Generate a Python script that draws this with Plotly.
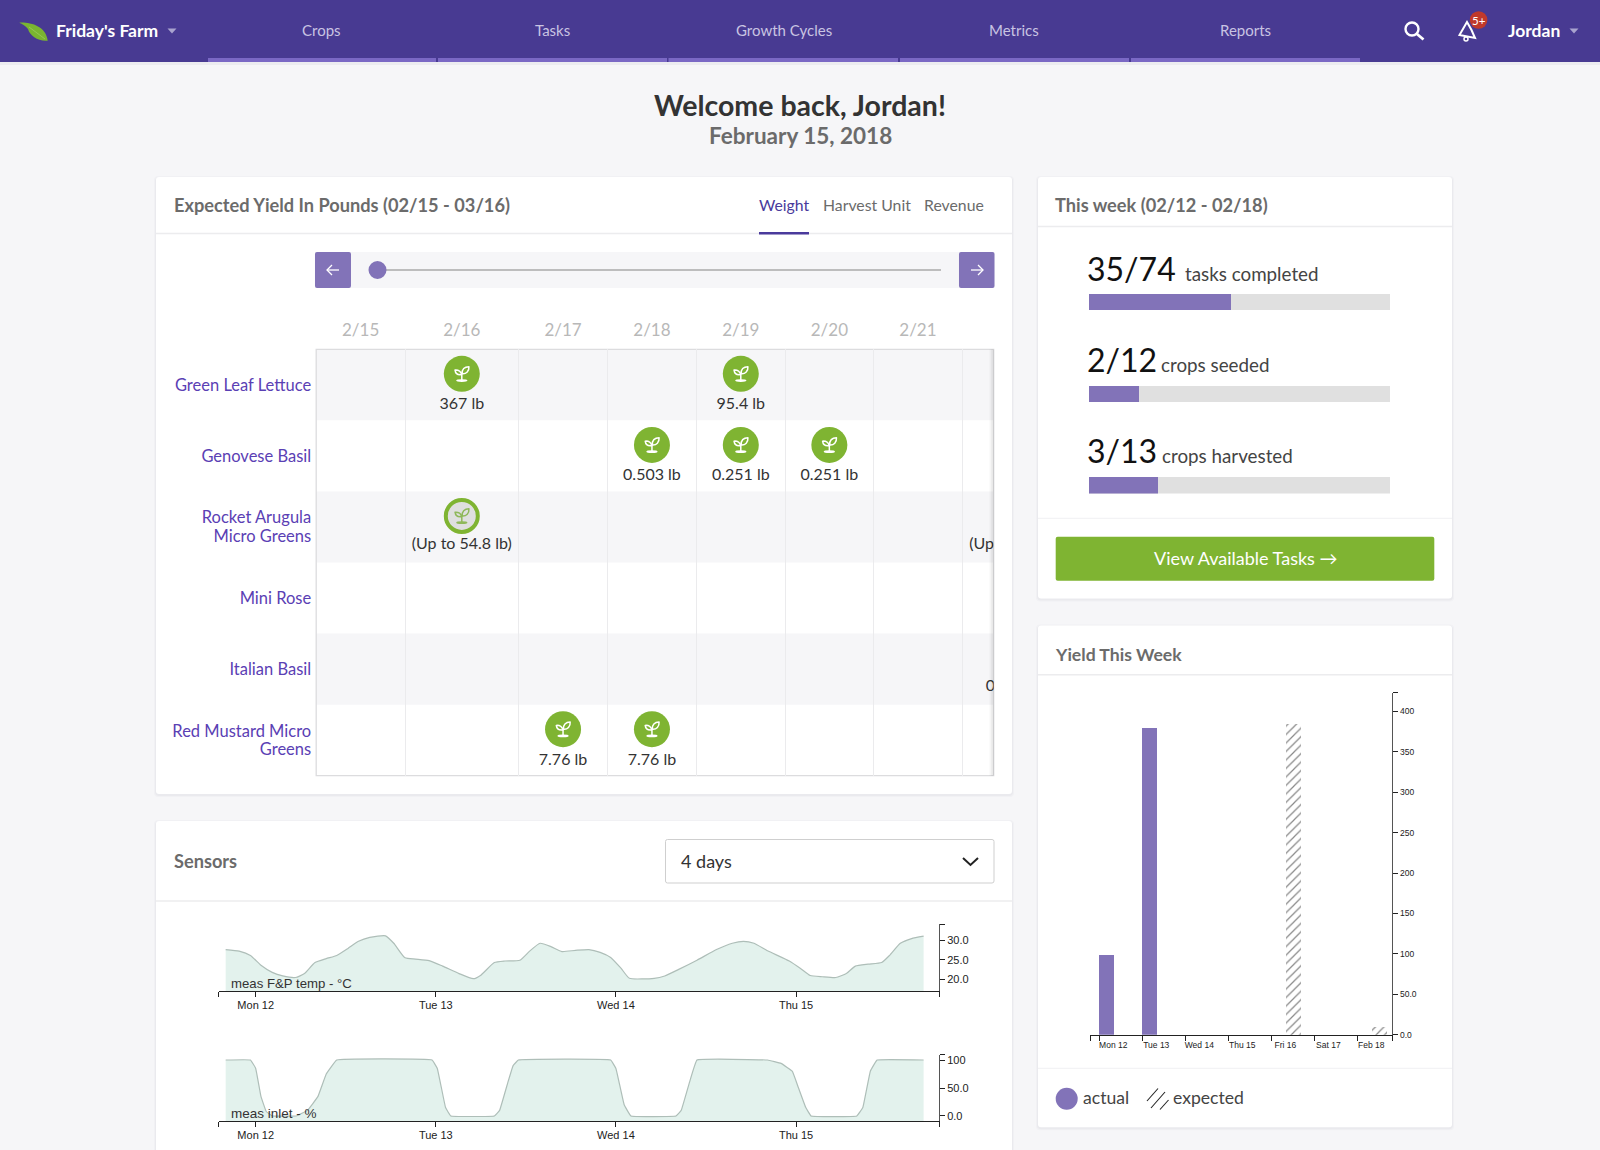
import base64
import pandas as pd
import plotly.graph_objects as go

W, H = 1600, 1150
FONT = "Lato"
CHART_FONT = "Liberation Sans"

# ---------- data ----------
nav_items = ["Crops", "Tasks", "Growth Cycles", "Metrics", "Reports"]
tabs = ["Weight", "Harvest Unit", "Revenue"]

crops = ["Green Leaf Lettuce", "Genovese Basil", "Rocket Arugula<br>Micro Greens",
         "Mini Rose", "Italian Basil", "Red Mustard Micro<br>Greens"]
date_labels = ["2/15", "2/16", "2/17", "2/18", "2/19", "2/20", "2/21"]
harvest_crop = [0, 0, 1, 1, 1, 5, 5, 0]
harvest_day = [1, 4, 3, 4, 5, 2, 3, 7]
harvest_text = ["367 lb", "95.4 lb", "0.503 lb", "0.251 lb", "0.251 lb", "7.76 lb", "7.76 lb", "95.4 lb"]
forecast_crop = [2, 2, 4]
forecast_day = [1, 7, 7]
forecast_text = ["(Up to 54.8 lb)", "(Up to 54.8 lb)", "0.0503 lb"]

task_labels = ["tasks completed", "crops seeded", "crops harvested"]
task_done = [35, 2, 3]
task_total = [74, 12, 13]

yield_days = ["2018-02-12", "2018-02-13", "2018-02-14", "2018-02-15", "2018-02-16", "2018-02-17", "2018-02-18"]
yield_labels = ["Mon 12", "Tue 13", "Wed 14", "Thu 15", "Fri 16", "Sat 17", "Feb 18"]
yield_actual = [98.5, 380, 0, 0, 0, 0, 0]
yield_expected = [0, 0, 0, 0, 385, 0, 10]

sensor_days = ["2018-02-12", "2018-02-13", "2018-02-14", "2018-02-15"]
sensor_labels = ["Mon 12", "Tue 13", "Wed 14", "Thu 15"]

temp_hours = [-4.0, -2.2, -0.7, 0.7, 2.2, 3.6, 5.3, 6.5, 7.9, 9.4, 10.8, 12.3, 13.7, 15.2, 17.3, 18.4,
              19.9, 21.3, 23.1, 24.9, 27.1, 29.0, 30.0, 31.8, 33.2, 35.2, 36.5, 37.9, 39.4, 40.8, 42.6,
              44.4, 45.9, 47.3, 48.7, 49.8, 53.1, 54.5, 56.3, 58.8, 61.4, 63.5, 65.0, 66.4, 68.2, 71.1,
              72.6, 73.9, 75.5, 77.3, 78.7, 79.9, 81.6, 83.4, 84.5, 85.9, 87.4, 89.0]
temp_values = [27.6, 27.2, 26.1, 23.6, 21.8, 20.9, 20.5, 21.5, 24.3, 25.3, 26.1, 27.9, 29.7, 30.7, 31.1, 29.2,
               25.5, 25.2, 24.8, 23.4, 21.5, 20.2, 21.1, 24.3, 24.7, 24.9, 27.2, 29.2, 28.3, 27.1, 27.4,
               27.6, 26.9, 25.6, 22.8, 20.3, 20.3, 20.9, 22.5, 24.9, 27.6, 29.2, 29.7, 29.2, 27.3, 24.7,
               22.8, 21.0, 20.7, 20.5, 21.5, 23.4, 23.9, 24.3, 26.2, 29.2, 30.4, 31.0]
inlet_hours = [-4.0, -0.7, 0.0, 0.7, 1.4, 2.2, 5.4, 6.9, 8.3, 9.4, 10.8, 23.5, 24.2, 25.3, 26.0, 31.8, 32.5,
               33.6, 34.3, 35.0, 47.3, 48.0, 49.1, 50.0, 56.0, 56.7, 57.8, 58.8, 68.2, 70.0, 71.5, 72.2,
               73.3, 74.0, 80.1, 80.9, 81.9, 82.8, 89.0]
inlet_values = [100, 100, 85, 35, 8, 0, 0, 10, 35, 75, 100, 100, 85, 15, 0, 0, 10,
                60, 90, 100, 100, 85, 20, 0, 0, 10, 60, 100, 100, 94, 80, 55,
                15, 0, 0, 15, 80, 100, 100]

# ---------- layout constants ----------
BG = "#f6f6f8"
HEADER = "#483a92"
TAB_BAR = "#7a68c4"
PURPLE = "#8273b8"
LINK = "#5a40b4"
GREEN = "#7fb432"
TITLE_GREY = "#6b6b6b"
column_widths = [88.8, 113.6, 88.9, 88.9, 88.8, 88.3, 88.9, 31.3]
GRID_L, GRID_R, GRID_T, GRID_B = 316.2, 993.7, 349.3, 775.7
LAST_COLUMN_FULL_WIDTH = 113.6


def px(x):
    return x / W


def py(y):
    return 1 - y / H


def dom_x(a, b):
    return [a / W, b / W]


def dom_y(top, bottom):
    return [1 - bottom / H, 1 - top / H]


shapes, annos, images = [], [], []


def path(d, fill=None, line=None, lw=0, layer="below"):
    shapes.append(dict(type="path", path=d, xref="paper", yref="paper",
                       fillcolor=fill or "rgba(0,0,0,0)",
                       line=dict(color=line or "rgba(0,0,0,0)", width=lw), layer=layer))


def P(*pts):
    return " ".join(f"{px(p[0]):.5f},{py(p[1]):.5f}" for p in pts)


def rect(x0, y0, x1, y1, fill=None, line=None, lw=0, layer="below"):
    shapes.append(dict(type="rect", xref="paper", yref="paper", x0=px(x0), x1=px(x1), y0=py(y0), y1=py(y1),
                       fillcolor=fill or "rgba(0,0,0,0)",
                       line=dict(color=line or "rgba(0,0,0,0)", width=lw), layer=layer))


def rrect(x0, y0, x1, y1, r=3, fill=None, line=None, lw=0, layer="below"):
    d = ("M" + P((x0 + r, y0)) + " L" + P((x1 - r, y0)) + " Q" + P((x1, y0), (x1, y0 + r)) +
         " L" + P((x1, y1 - r)) + " Q" + P((x1, y1), (x1 - r, y1)) +
         " L" + P((x0 + r, y1)) + " Q" + P((x0, y1), (x0, y1 - r)) +
         " L" + P((x0, y0 + r)) + " Q" + P((x0, y0), (x0 + r, y0)) + " Z")
    path(d, fill, line, lw, layer)


def circle(cx, cy, r, fill=None, line=None, lw=0, layer="below"):
    shapes.append(dict(type="circle", xref="paper", yref="paper", x0=px(cx - r), x1=px(cx + r),
                       y0=py(cy + r), y1=py(cy - r), fillcolor=fill or "rgba(0,0,0,0)",
                       line=dict(color=line or "rgba(0,0,0,0)", width=lw), layer=layer))


def seg(x0, y0, x1, y1, color, lw=1, layer="below"):
    shapes.append(dict(type="line", xref="paper", yref="paper", x0=px(x0), x1=px(x1), y0=py(y0), y1=py(y1),
                       line=dict(color=color, width=lw), layer=layer))


def T(text, x, y, size, color, anchor="left", family=FONT, weight=None):
    f = dict(family=family, size=size, color=color)
    if weight:
        f["weight"] = weight
    annos.append(dict(text=text, x=px(x), y=py(y), xref="paper", yref="paper", showarrow=False,
                      xanchor=anchor, yanchor="middle", font=f, borderpad=0, borderwidth=0))


def card(x0, y0, x1, y1):
    rrect(x0 - 2, y0 - 1, x1 + 2, y1 + 3, 4, fill="rgba(60,60,90,0.025)")
    rrect(x0 - 1, y0, x1 + 1, y1 + 2, 4, fill="rgba(60,60,90,0.035)")
    rrect(x0, y0, x1, y1, 3, fill="white")


def caret(cx, cy, color="#a9a3cf"):
    path("M" + P((cx - 4.5, cy - 2.5)) + " L" + P((cx + 4.5, cy - 2.5)) + " L" + P((cx, cy + 2.5)) + " Z", fill=color)


def svg_uri(svg):
    return "data:image/svg+xml;base64," + base64.b64encode(svg.encode()).decode()


def sprout(color):
    return svg_uri(
        f'<svg xmlns="http://www.w3.org/2000/svg" width="96" height="96" viewBox="0 0 24 24">'
        f'<g fill="none" stroke="{color}" stroke-width="2" stroke-linejoin="round" stroke-linecap="round">'
        f'<path d="M12.5 12 C12 6 15.5 2.5 21.5 2.5 C22 8.5 18 12.5 12.5 12 Z"/>'
        f'<path d="M11.5 13 C7 13.5 3.5 11.5 3 7 C7.5 6.5 11.5 9 11.5 13 Z"/>'
        f'<path d="M12 11 V20"/></g>'
        f'<ellipse cx="12" cy="21" rx="7.5" ry="1.8" fill="{color}"/></svg>')


# ---------- page chrome ----------
rect(0, 0, W, H, fill=BG)
rect(0, 62, W, 65, fill="rgba(60,60,90,0.05)")
rect(0, 0, W, 62, fill=HEADER)
for a, b in [(208, 436), (438, 667), (668.5, 898), (900, 1129), (1131, 1360)]:
    rect(a, 58, b, 62, fill=TAB_BAR)
path("M" + P((19.3, 22.7)) + " C" + P((30, 22), (46, 26), (47.7, 40.7)) + " C" + P((38, 41.5), (30, 36), (28, 29)) +
     " C" + P((26, 26), (22, 24), (19.3, 22.7)) + " Z", fill="#7ab531")
seg(29, 27, 45, 39, "#9ccb5e", 0.8)
T("Friday's Farm", 56, 30.5, 17.5, "white", weight=700)
caret(172, 31)
for label, c in zip(nav_items, [321.5, 552.5, 783.5, 1014, 1245]):
    T(label, c, 30.5, 15, "#c9c4e2", "center")
circle(1412, 29, 6.5, line="white", lw=2.4)
seg(1417, 34, 1423.5, 39.5, "white", 2.8)
path("M" + P((1467, 22)) + " L" + P((1459.5, 35)) + " L" + P((1475, 38)) + " L" + P((1471.5, 30)) + " Z",
     line="white", lw=2)
circle(1466, 39, 2, line="white", lw=1.5)
circle(1478.6, 20, 8.8, fill="#c0392b")
T("5+", 1478.6, 20, 11.5, "white", "center")
T("Jordan", 1508, 30.5, 17.5, "white", weight=700)
caret(1574, 31)

T("Welcome back, Jordan!", 800, 104.5, 28.5, "#333333", "center", weight=700)
T("February 15, 2018", 800, 135, 22.5, "#6b6b6b", "center", weight=700)

# yield table card
card(156, 177, 1012, 794)
seg(156, 233.5, 1012, 233.5, "#ececee", 1.5)
T("Expected Yield In Pounds (02/15 - 03/16)", 173.5, 205, 18.2, TITLE_GREY, weight=700)
for label, x, col in zip(tabs, [759, 823, 924], ["#4a3a9c", "#6b6b6b", "#6b6b6b"]):
    T(label, x, 205, 15.8, col)
rect(759, 232, 809, 234.5, fill="#4a3a9c")
rect(315, 252, 994.5, 288, fill=BG)
rrect(315, 252, 351, 288, 2, fill=PURPLE)
rrect(959, 252, 994.5, 288, 2, fill=PURPLE)
for sx, sgn in [(333, -1), (977, 1)]:
    seg(sx - 6, 270, sx + 6, 270, "white", 1.3)
    path("M" + P((sx + sgn * 1, 265)) + " L" + P((sx + sgn * 6, 270)) + " L" + P((sx + sgn * 1, 275)), line="white", lw=1.3)
seg(377, 270, 941, 270, "#aaaaaa", 1.5)
circle(377.5, 270, 9, fill=PURPLE)
rect(GRID_L, GRID_T, GRID_R, GRID_B, fill="white")
row_h = (GRID_B - GRID_T) / 6
for i in (0, 2, 4):
    rect(GRID_L, GRID_T + i * row_h, GRID_R, GRID_T + (i + 1) * row_h, fill=BG)

# sensors card
card(156, 821, 1012, 1160)
seg(156, 901, 1012, 901, "#ececee", 1.5)
T("Sensors", 173.5, 861, 18.2, TITLE_GREY, weight=700)
rrect(665.5, 839.5, 994, 883, 2, fill="white", line="#cfcfcf", lw=1)
T("4 days", 681, 861, 18, "#333333")
path("M" + P((963, 858)) + " L" + P((970.5, 865)) + " L" + P((978, 858)), line="#222222", lw=2)

# this-week card
card(1038, 177, 1452, 598.5)
seg(1038, 226.5, 1452, 226.5, "#ececee", 1.5)
T("This week (02/12 - 02/18)", 1055, 205, 18.2, TITLE_GREY, weight=700)
for i, (lab, lx) in enumerate(zip(task_labels, [1185, 1161, 1162])):
    yy = 268 + i * 91.2
    T(f"{task_done[i]}/{task_total[i]}", 1087, yy, 32, "#111111")
    T(lab, lx, yy + 5, 18.8, "#444444")
seg(1038, 518.3, 1452, 518.3, "#f1f1f3", 1)
rrect(1055.7, 536.7, 1434.3, 580.7, 2, fill=GREEN)
T("View Available Tasks →", 1245, 557.5, 18, "white", "center")

# yield-this-week card
card(1038, 625.5, 1452, 1127.3)
seg(1038, 674.7, 1452, 674.7, "#ececee", 1.5)
T("Yield This Week", 1055, 654, 17.6, TITLE_GREY, weight=700)
seg(1038, 1068.3, 1452, 1068.3, "#f1f1f3", 1)
circle(1066.7, 1098.7, 11, fill=PURPLE)
T("actual", 1082.7, 1097, 17.6, "#444444")
for a, b in [((1147, 1101), (1158, 1088.5)), ((1151, 1108), (1165, 1092)), ((1160, 1109.5), (1168.5, 1100))]:
    seg(a[0], a[1], b[0], b[1], "#222222", 1.1)
T("expected", 1173, 1097, 17.6, "#444444")

# ---------- traces ----------
fig = go.Figure()
day0 = pd.Timestamp("2018-02-12")


def to_dates(hours):
    return [day0 + pd.Timedelta(hours=h) for h in hours]


LINE_C, FILL_C = "#aebeb8", "#e3f2ed"
for n, hours, values, floor, smooth in [("", temp_hours, temp_values, 17, 0.5),
                                        ("2", inlet_hours, inlet_values, -9.5, 0.2)]:
    d = to_dates(hours)
    fig.add_trace(go.Scatter(x=[d[0], d[-1]], y=[floor, floor], mode="lines", line=dict(width=0),
                             xaxis="x" + n, yaxis="y" + n, showlegend=False, hoverinfo="skip"))
    fig.add_trace(go.Scatter(x=d, y=values, mode="lines", fill="tonexty", fillcolor=FILL_C,
                             line=dict(color=LINE_C, width=1.2, shape="spline", smoothing=smooth),
                             xaxis="x" + n, yaxis="y" + n, showlegend=False))

DAY_MS = 86400000
fig.add_trace(go.Bar(x=yield_days, y=yield_actual, name="actual", marker=dict(color=PURPLE, line=dict(width=0)),
                     width=0.34 * DAY_MS, offset=0, xaxis="x3", yaxis="y3", showlegend=False))
fig.add_trace(go.Bar(x=yield_days, y=yield_expected, name="expected",
                     marker=dict(color="white", line=dict(width=0),
                                 pattern=dict(shape="/", fgcolor="#111111", bgcolor="white", size=6, solidity=0.2)),
                     width=0.34 * DAY_MS, offset=0.357 * DAY_MS, xaxis="x3", yaxis="y3", showlegend=False))

edges = [0.0]
for w_ in column_widths:
    edges.append(edges[-1] + w_)
centers = [(edges[i] + edges[i + 1]) / 2 for i in range(len(column_widths))]
centers[7] = edges[7] + LAST_COLUMN_FULL_WIDTH / 2
ICON_OFFSET = 0.155
fig.add_trace(go.Scatter(
    x=[centers[d] for d in harvest_day], y=[c - ICON_OFFSET for c in harvest_crop],
    mode="markers+text", text=harvest_text, textposition="bottom center",
    textfont=dict(family=FONT, size=16, color="#333333"),
    marker=dict(size=36, color=GREEN, line=dict(width=0)), xaxis="x4", yaxis="y4",
    showlegend=False, cliponaxis=True))
fig.add_trace(go.Scatter(
    x=[centers[d] for d in forecast_day], y=[c - ICON_OFFSET for c in forecast_crop],
    mode="markers+text", text=forecast_text, textposition="bottom center",
    textfont=dict(family=FONT, size=16, color="#333333"),
    marker=dict(size=32, color="#dfdfdf", line=dict(width=4, color=GREEN)), xaxis="x4", yaxis="y4",
    showlegend=False, cliponaxis=True))
y_per_px = 1 / row_h
for d, c in zip(harvest_day, harvest_crop):
    if d < 7:
        images.append(dict(source=sprout("white"), xref="x4", yref="y4", x=centers[d], y=c - ICON_OFFSET,
                           sizex=18, sizey=18 * y_per_px, xanchor="center", yanchor="middle", layer="above"))
for d, c in zip(forecast_day, forecast_crop):
    if d < 7:
        images.append(dict(source=sprout("#8fb85a"), xref="x4", yref="y4", x=centers[d], y=c - ICON_OFFSET,
                           sizex=18, sizey=18 * y_per_px, xanchor="center", yanchor="middle", layer="above"))

# right-edge scroll shadow sits above the table marks
for xs in (989.5, 991, 992.5):
    shapes.append(dict(type="rect", xref="paper", yref="paper", x0=px(xs), x1=px(GRID_R), y0=py(GRID_T), y1=py(GRID_B),
                       fillcolor="rgba(0,0,0,0.035)", line=dict(width=0), layer="above"))

shares = [d / t for d, t in zip(task_done, task_total)]
fig.add_trace(go.Bar(y=[0, 1, 2], x=[1, 1, 1], orientation="h", marker=dict(color="#e0e0e0", line=dict(width=0)),
                     width=0.18, xaxis="x5", yaxis="y5", showlegend=False))
fig.add_trace(go.Bar(y=[0, 1, 2], x=shares, orientation="h", marker=dict(color=PURPLE, line=dict(width=0)),
                     width=0.18, xaxis="x5", yaxis="y5", showlegend=False))

# crop names: every line gets its own tick so the line spacing can follow the reference
LINE_GAP = 0.132
crop_ticks, crop_tick_text = [], []
for i, name in enumerate(crops):
    parts = name.split("<br>")
    for j, part in enumerate(parts):
        crop_ticks.append(i + (j - (len(parts) - 1) / 2) * 2 * LINE_GAP)
        crop_tick_text.append(part)


# ---------- axes ----------
def ax_common(size, color="#222222"):
    return dict(showgrid=False, zeroline=False, showline=True, linecolor=color, linewidth=1.3, ticks="outside",
                tickcolor=color, tickwidth=1, ticklen=5, fixedrange=True, automargin=False,
                tickfont=dict(family=CHART_FONT, size=size, color="#222222"))


S_L, S_R = "2018-02-11 19:05", "2018-02-15 19:03"
sens_x = dict(tickmode="array", tickvals=[S_L] + sensor_days + [S_R], ticktext=[""] + sensor_labels + [""],
              range=[S_L, S_R], type="date", ticklabelstandoff=-2, **ax_common(11))
fig.update_layout(
    xaxis=dict(domain=dom_x(218.8, 939), anchor="y", **sens_x),
    yaxis=dict(domain=dom_y(924, 991.3), anchor="x", side="right", range=[17, 34.1],
               tickmode="array", tickvals=[20, 25, 30, 34.1], ticktext=["20.0", "25.0", "30.0", ""],
               **{**ax_common(11), "linecolor": "#555555", "linewidth": 1}),
    xaxis2=dict(domain=dom_x(218.8, 939), anchor="y2", **sens_x),
    yaxis2=dict(domain=dom_y(1054.7, 1121.3), anchor="x2", side="right", range=[-9.5, 109.5],
                tickmode="array", tickvals=[0, 50, 100, 109.5], ticktext=["0.0", "50.0", "100", ""],
                **{**ax_common(11), "linecolor": "#555555", "linewidth": 1}),
)
B_L, B_R = "2018-02-11 19:00", "2018-02-18 19:30"
fig.update_layout(
    xaxis3=dict(domain=dom_x(1090.3, 1392.3), anchor="y3", type="date", range=[B_L, B_R], tickmode="array",
                tickvals=[B_L] + yield_days + [B_R], ticktext=[""] + yield_labels + [""],
                ticklabelshift=14, ticklabelstandoff=-3, **ax_common(8.5)),
    yaxis3=dict(domain=dom_y(692.7, 1034.7), anchor="x3", side="right", range=[0, 423], tickmode="array",
                tickvals=[0, 50, 100, 150, 200, 250, 300, 350, 400, 423],
                ticktext=["0.0", "50.0", "100", "150", "200", "250", "300", "350", "400", ""],
                **{**ax_common(8.5), "linecolor": "#555555", "linewidth": 1}),
    xaxis4=dict(domain=dom_x(GRID_L, GRID_R), anchor="y4", side="top", range=[0, GRID_R - GRID_L],
                tickmode="array", tickvals=centers[:7], ticktext=date_labels, showgrid=False, zeroline=False,
                showline=False, ticks="outside", ticklen=6, tickcolor="rgba(0,0,0,0)", automargin=False,
                tickfont=dict(family=FONT, size=17, color="#b8b8b8"), fixedrange=True,
                minor=dict(tickmode="array", tickvals=edges[1:-1], showgrid=True, gridcolor="#ebebed", gridwidth=1,
                           ticks="")),
    yaxis4=dict(domain=dom_y(GRID_T, GRID_B), anchor="x4", range=[5.5, -0.5], tickmode="array",
                tickvals=crop_ticks, ticktext=crop_tick_text, showgrid=False, zeroline=False, showline=False,
                ticks="", ticklen=0, ticklabelstandoff=4, fixedrange=True, automargin=False,
                tickfont=dict(family=FONT, size=16.5, color=LINK)),
    xaxis5=dict(domain=dom_x(1089, 1390), anchor="y5", range=[0, 1], visible=False, fixedrange=True, automargin=False),
    yaxis5=dict(domain=dom_y(294, 493.5), anchor="x5", range=[2.09, -0.09], visible=False, fixedrange=True, automargin=False),
)
rect(GRID_L, GRID_T, GRID_R, GRID_B, line="#dcdcde", lw=1.3)

T("meas F&amp;P temp - °C", 231.3, 983.7, 13.2, "#333333", family=CHART_FONT)
T("meas inlet - %", 231.3, 1113.5, 13.5, "#333333", family=CHART_FONT)

fig.update_layout(width=W, height=H, margin=dict(l=0, r=0, t=0, b=0, pad=0), paper_bgcolor=BG, plot_bgcolor="rgba(0,0,0,0)",
                  barmode="overlay", bargap=0, shapes=shapes, annotations=annos, images=images,
                  showlegend=False, font=dict(family=FONT))

fig.write_html("out.html", config={"displayModeBar": False},
               post_script="document.body.style.margin='0';document.documentElement.style.overflow='hidden';document.body.style.background='%s';" % BG)
